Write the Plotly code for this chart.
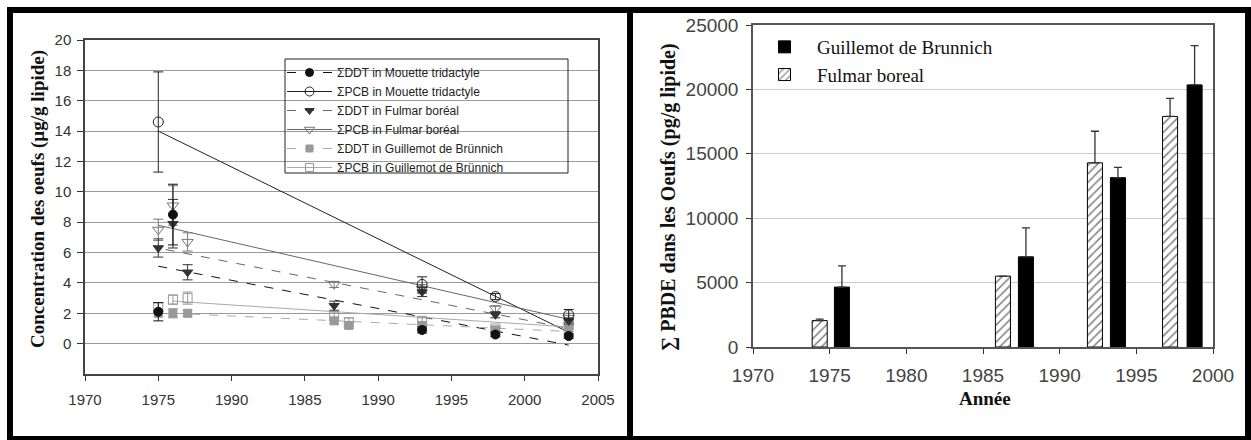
import plotly.graph_objects as go

W, H = 1251, 440

# ---------------- Left panel data (µg/g lipide) ----------------
years_mouette_ddt = [1975, 1976, 1993, 1998, 2003]
ddt_mouette = [2.1, 8.5, 0.9, 0.6, 0.5]
ddt_mouette_err = [0.6, 2.0, 0.2, 0.15, 0.15]

years_mouette_pcb = [1975, 1993, 1998, 2003]
pcb_mouette = [14.6, 3.9, 3.1, 1.9]
pcb_mouette_err = [3.3, 0.5, 0.2, 0.35]

years_fulmar = [1975, 1976, 1977, 1987, 1993, 1998, 2003]
ddt_fulmar = [6.3, 7.9, 4.7, 2.5, 3.4, 1.9, 1.5]
ddt_fulmar_err = [0.6, 1.6, 0.5, 0.3, 0.3, 0.2, 0.2]
pcb_fulmar = [7.5, 9.1, 6.7, 3.9, 3.6, 2.3, 1.7]
pcb_fulmar_err = [0.7, 1.3, 0.6, 0.2, 0.3, 0.2, 0.3]

years_guill = [1975, 1976, 1977, 1987, 1988, 1993, 1998, 2003]
ddt_guill = [2.0, 2.0, 2.0, 1.5, 1.2, 1.2, 0.9, 1.0]
ddt_guill_err = [0.2, 0.3, 0.2, 0.2, 0.2, 0.2, 0.15, 0.2]
pcb_guill = [2.4, 2.9, 3.0, 1.8, 1.4, 1.5, 1.0, 1.2]
pcb_guill_err = [0.3, 0.3, 0.4, 0.3, 0.3, 0.2, 0.15, 0.2]

# trend lines (start / end)
trend_mouette_ddt_x = [1975, 2003]
trend_mouette_ddt_y = [5.1, -0.1]
trend_mouette_pcb_x = [1975, 2003]
trend_mouette_pcb_y = [14.0, 0.75]
trend_fulmar_ddt_x = [1975.5, 2003]
trend_fulmar_ddt_y = [6.2, 1.0]
trend_fulmar_pcb_x = [1975, 2003]
trend_fulmar_pcb_y = [7.8, 1.6]
trend_guill_ddt_x = [1976, 2003]
trend_guill_ddt_y = [2.0, 0.8]
trend_guill_pcb_x = [1976, 2003]
trend_guill_pcb_y = [2.8, 1.1]

left_tickvals = [1970, 1975, 1980, 1985, 1990, 1995, 2000, 2005]
left_ticktext = ["1970", "1975", "1990", "1985", "1990", "1995", "2000", "2005"]
left_yticks = [0, 2, 4, 6, 8, 10, 12, 14, 16, 18, 20]

# ---------------- Right panel data (pg/g lipide) ----------------
fulmar_years = [1974.35, 1986.3, 1992.3, 1997.2]
fulmar_pbde = [2050, 5500, 14300, 17900]
fulmar_pbde_err = [120, 0, 2450, 1400]
guill_years = [1975.8, 1987.8, 1993.8, 1998.8]
guill_pbde = [4650, 7000, 13150, 20350]
guill_pbde_err = [1650, 2250, 800, 3050]

right_tickvals = [1970, 1975, 1980, 1985, 1990, 1995, 2000]
right_yticks = [0, 5000, 10000, 15000, 20000, 25000]

SANS = "Liberation Sans, Arial, sans-serif"
SERIF = "Liberation Serif, Times New Roman, serif"

fig = go.Figure()

series = [
    ("ΣDDT in Mouette tridactyle", years_mouette_ddt, ddt_mouette, ddt_mouette_err,
     trend_mouette_ddt_x, trend_mouette_ddt_y, "circle", "#111111", "#111111", "dash", 9),
    ("ΣPCB in Mouette tridactyle", years_mouette_pcb, pcb_mouette, pcb_mouette_err,
     trend_mouette_pcb_x, trend_mouette_pcb_y, "circle-open", "#222222", "#222222", "solid", 10),
    ("ΣDDT in Fulmar boréal", years_fulmar, ddt_fulmar, ddt_fulmar_err,
     trend_fulmar_ddt_x, trend_fulmar_ddt_y, "triangle-down", "#333333", "#666666", "dash", 9),
    ("ΣPCB in Fulmar boréal", years_fulmar, pcb_fulmar, pcb_fulmar_err,
     trend_fulmar_pcb_x, trend_fulmar_pcb_y, "triangle-down-open", "#777777", "#666666", "solid", 10),
    ("ΣDDT in Guillemot de Brünnich", years_guill, ddt_guill, ddt_guill_err,
     trend_guill_ddt_x, trend_guill_ddt_y, "square", "#999999", "#aaaaaa", "dash", 8),
    ("ΣPCB in Guillemot de Brünnich", years_guill, pcb_guill, pcb_guill_err,
     trend_guill_pcb_x, trend_guill_pcb_y, "square-open", "#999999", "#aaaaaa", "solid", 9),
]

# trend lines first
for name, xs, ys, es, tx, ty, sym, mcol, lcol, dash, msize in series:
    fig.add_trace(go.Scatter(
        x=tx, y=ty, mode="lines", xaxis="x", yaxis="y",
        line=dict(color=lcol, width=1, dash=dash), showlegend=False, hoverinfo="skip"))
# markers (reverse order so the dark series stay on top)
for name, xs, ys, es, tx, ty, sym, mcol, lcol, dash, msize in reversed(series):
    fig.add_trace(go.Scatter(
        x=xs, y=ys, mode="markers", xaxis="x", yaxis="y", name=name,
        marker=dict(symbol=sym, size=msize, color=mcol, line=dict(color=mcol, width=1)),
        error_y=dict(type="data", array=es, color=mcol, thickness=1, width=5),
        showlegend=False))
# legend entries (line + marker)
for name, xs, ys, es, tx, ty, sym, mcol, lcol, dash, msize in series:
    fig.add_trace(go.Scatter(
        x=[None], y=[None], mode="lines+markers", xaxis="x", yaxis="y", name=name,
        line=dict(color=lcol, width=1, dash=dash),
        marker=dict(symbol=sym, size=msize - 1, color=mcol, line=dict(color=mcol, width=1)),
        legend="legend"))

# Right panel bars
fig.add_trace(go.Bar(
    x=guill_years, y=guill_pbde, width=0.98, name="Guillemot de Brunnich",
    xaxis="x2", yaxis="y2", marker=dict(color="black", line=dict(color="black", width=1)),
    error_y=dict(type="data", symmetric=False, array=guill_pbde_err,
                 arrayminus=[0] * len(guill_pbde_err), color="#333333", thickness=1.3, width=4),
    legend="legend2"))
fig.add_trace(go.Bar(
    x=fulmar_years, y=fulmar_pbde, width=0.98, name="Fulmar boreal",
    xaxis="x2", yaxis="y2",
    marker=dict(color="white", line=dict(color="black", width=1),
                pattern=dict(shape="/", fgcolor="black", bgcolor="white", size=6, solidity=0.25)),
    error_y=dict(type="data", symmetric=False, array=fulmar_pbde_err,
                 arrayminus=[0] * len(fulmar_pbde_err), color="#333333", thickness=1.3, width=4),
    legend="legend2"))

def px_x(p):
    return p / W

def px_y(p):
    return 1 - p / H

shapes = []
# legend box left
shapes.append(dict(type="rect", xref="paper", yref="paper",
                   x0=px_x(285), x1=px_x(568), y0=px_y(173), y1=px_y(59),
                   line=dict(color="#222222", width=1), fillcolor="rgba(0,0,0,0)", layer="above"))
# black frame
for (x0, y0, x1, y1) in [(7, 7, 1251, 13), (7, 7, 13, 440), (627, 7, 633, 440),
                         (1245, 7, 1251, 440), (7, 436, 1251, 440)]:
    shapes.append(dict(type="rect", xref="paper", yref="paper",
                       x0=px_x(x0), x1=px_x(x1), y0=px_y(y1), y1=px_y(y0),
                       line=dict(width=0), fillcolor="black", layer="above"))

annotations = [
    dict(text="<b>Concentration des oeufs (µg/g lipide)</b>", textangle=-90,
         x=px_x(38), y=px_y(199), xref="paper", yref="paper", showarrow=False,
         xanchor="center", yanchor="middle",
         font=dict(family=SERIF, size=19, color="#111111")),
    dict(text="<b>∑ PBDE dans les Oeufs (pg/g lipide)</b>", textangle=-90,
         x=px_x(668), y=px_y(197), xref="paper", yref="paper", showarrow=False,
         xanchor="center", yanchor="middle",
         font=dict(family=SERIF, size=20, color="#111111")),
    dict(text="<b>Année</b>", x=px_x(985), y=px_y(398), xref="paper", yref="paper",
         showarrow=False, xanchor="center", yanchor="middle",
         font=dict(family=SERIF, size=19, color="#111111")),
]

fig.update_layout(
    width=W, height=H, margin=dict(l=0, r=0, t=0, b=0, autoexpand=False),
    paper_bgcolor="white", plot_bgcolor="white",
    barmode="overlay",
    xaxis=dict(domain=[px_x(85), px_x(598)], anchor="y", range=[1970, 2005], automargin=False,
               tickvals=left_tickvals, ticktext=left_ticktext, ticks="outside", ticklen=5,
               tickcolor="#333333", showline=True, linecolor="#444444", linewidth=1.5, mirror=True,
               showgrid=False, zeroline=False, ticklabelstandoff=6,
               tickfont=dict(family=SANS, size=15, color="#333333")),
    yaxis=dict(domain=[px_y(374), px_y(40)], anchor="x", range=[-2, 20], automargin=False,
               tickvals=left_yticks, ticks="outside", ticklen=6, tickcolor="#333333",
               showline=True, linecolor="#444444", linewidth=1.5, mirror=True,
               showgrid=True, gridcolor="#9a9a9a", gridwidth=1, zeroline=False,
               ticklabelstandoff=3,
               tickfont=dict(family=SANS, size=15, color="#333333")),
    xaxis2=dict(domain=[px_x(753), px_x(1213)], anchor="y2", range=[1970, 2000], automargin=False,
                tickvals=right_tickvals, ticks="outside", ticklen=5, tickcolor="#333333",
                showline=True, linecolor="#555555", linewidth=1.5, mirror=True,
                showgrid=False, zeroline=False, ticklabelstandoff=5,
                tickfont=dict(family=SANS, size=19, color="#444444")),
    yaxis2=dict(domain=[px_y(347), px_y(25)], anchor="x2", range=[0, 25000], automargin=False,
                tickvals=right_yticks, tickformat="d", ticks="outside", ticklen=5, tickcolor="#333333",
                showline=True, linecolor="#555555", linewidth=1.5, mirror=True,
                showgrid=True, gridcolor="#cccccc", gridwidth=1, zeroline=False,
                ticklabelstandoff=4,
                tickfont=dict(family=SANS, size=19, color="#444444")),
    legend=dict(x=px_x(282), y=px_y(58), xanchor="left", yanchor="top", itemwidth=45,
                bgcolor="rgba(255,255,255,0)", borderwidth=0, tracegroupgap=0,
                font=dict(family=SANS, size=12, color="#222222")),
    legend2=dict(x=px_x(752), y=px_y(28), xanchor="left", yanchor="top", itemwidth=55,
                 bgcolor="rgba(255,255,255,0)", borderwidth=0, tracegroupgap=0,
                 font=dict(family=SERIF, size=19, color="#111111")),
    shapes=shapes, annotations=annotations,
)

fig.write_html("out.html")
